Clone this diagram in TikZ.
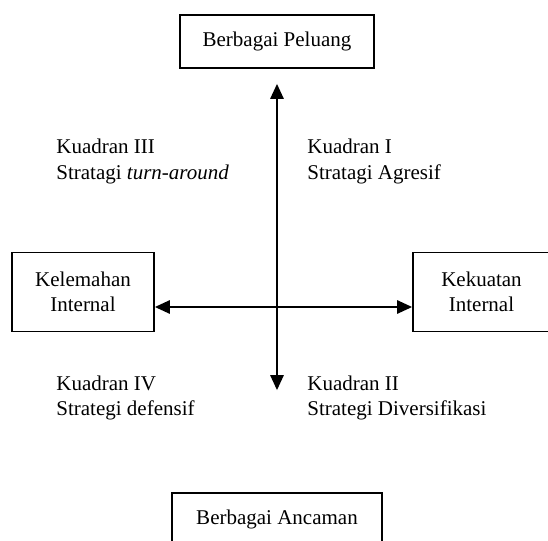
\documentclass[tikz,border=0pt]{standalone}
\usepackage{fontspec}
\setmainfont{Liberation Serif}
\usetikzlibrary{arrows.meta}
\tikzset{
  kotak/.style={draw,line width=0.8pt,inner sep=0pt,align=center},
  teks/.style={anchor=west,align=left,inner sep=0pt},
  panah/.style={line width=1.3pt,{Triangle[length=7.5pt,width=6.5pt]}-{Triangle[length=7.5pt,width=6.5pt]}}
}
\begin{document}
\begin{tikzpicture}[x=0.5pt,y=-0.5pt,font=\fontsize{10.5}{12.6}\selectfont]
        \useasboundingbox (0,0) rectangle (548,541);
        \clip (0,0) rectangle (548,541);
        \node[kotak,minimum width=97pt,minimum height=26.5pt] (peluang) at (277,41.5) {Berbagai Peluang};
        \node[kotak,minimum width=71pt,minimum height=39.5pt] (lemah) at (83,292) {Kelemahan\\Internal};
        \node[kotak,minimum width=68.5pt,minimum height=39.5pt] (kuat) at (481.5,292) {Kekuatan\\Internal};
        \node[kotak,minimum width=105pt,minimum height=26.5pt] (ancaman) at (277,519.5) {Berbagai Ancaman};
        \draw[panah] ([yshift=-7.5pt]peluang.south) -- ([yshift=51pt]ancaman.north);
        \draw[panah] ([yshift=-7.5pt]lemah.east) -- ([yshift=-7.5pt]kuat.west);
        \node[teks] (k3) at (56,161.5) {Kuadran III\\Stratagi \textit{turn-around}};
        \node[teks] (k1) at (307,161.5) {Kuadran I\\Stratagi Agresif};
        \node[teks] (k4) at (56,398) {Kuadran IV\\Strategi defensif};
        \node[teks] (k2) at (307,398) {Kuadran II\\Strategi Diversifikasi};
\end{tikzpicture}
\end{document}
